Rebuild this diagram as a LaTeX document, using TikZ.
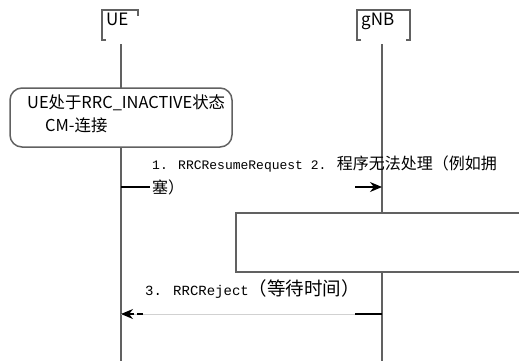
\documentclass[tikz,border=0pt]{standalone}
\usepackage{fontspec}
\newfontfamily\cjk{Noto Sans CJK SC}
\newfontfamily\mono{Liberation Mono}
\usetikzlibrary{arrows.meta}
\begin{document}
\begin{tikzpicture}[x=1pt,y=-1pt,
  life/.style={draw=black!62, line width=1.5pt},
  frame/.style={draw=black!62, line width=1.5pt},
  hdr/.style={font=\cjk\fontsize{17}{17}\selectfont, inner sep=0, anchor=base west},
  boxtxt/.style={font=\cjk\fontsize{16.4}{16.4}\selectfont, inner sep=0, anchor=base west},
  lbl/.style={inner sep=0, anchor=base west},
  msg/.style={draw=black, line width=1.1pt},
  tip/.style={-{Stealth[length=12pt,width=10pt]}},
]
\useasboundingbox (0,0) rectangle (519,360);
\clip (0,0) rectangle (519,360);
\fill[white] (0,0) rectangle (519,360);

% headers
\node[hdr] (ue) at (106,25) {UE};
\node[hdr] (gnb) at (361,25) {gNB};
\draw[frame] (106,40) -- (102,40) -- (102,10) -- (138,10) -- (138,16);
\draw[frame] (361,40) -- (357,40) -- (357,10) -- (410,10) -- (410,40) -- (406,40);

% lifelines
\coordinate (uetop) at (121,44);
\coordinate (uebot) at (121,362);
\coordinate (gtop) at (382,44);
\coordinate (gbot) at (382,362);
\draw[life] (uetop) -- (uebot);
\draw[life] (gtop) -- (gbot);

% state box
\node[frame, fill=white, rounded corners=12pt, minimum width=222pt, minimum height=59pt, inner sep=0] (state) at (121,117.5) {};
\node[boxtxt] (st1) at (27,108) {UE处于RRC\_INACTIVE状态};
\node[boxtxt] (st2) at (45,131) {CM-连接};

% message 1
\coordinate (m1a) at (121,187);
\coordinate (m1b) at (150,187);
\coordinate (m1c) at (355,187);
\coordinate (m1d) at (382,187);
\draw[msg] (m1a) -- (m1b);
\draw[msg, tip] (m1c) -- (m1d);
\node[lbl] (l1a) at (152,169) {{\mono\fontsize{13}{13}\selectfont 1. RRCResumeRequest 2. }{\cjk\fontsize{16}{16}\selectfont 程序无法处理（例如拥}};
\node[lbl] (l1b) at (152,193) {\cjk\fontsize{16}{16}\selectfont 塞）};

% procedure box
\node[frame, fill=white, minimum width=294pt, minimum height=59pt, inner sep=0] (proc) at (383,242.5) {};

% message 3
\coordinate (m3a) at (382,314);
\coordinate (m3b) at (355,314);
\coordinate (m3c) at (143,314);
\coordinate (m3d) at (137,314);
\coordinate (m3e) at (134,314);
\coordinate (m3f) at (121,314);
\draw[draw=black!18, line width=0.8pt] (m3a) -- (m3f);
\draw[msg] (m3a) -- (m3b);
\draw[msg] (m3c) -- (m3d);
\draw[msg, tip] (m3e) -- (m3f);
\node[lbl] (l3) at (145,295) {{\mono\fontsize{14}{14}\selectfont 3. RRCReject}{\cjk\fontsize{18.5}{18.5}\selectfont （等待时间）}};
\end{tikzpicture}
\end{document}
